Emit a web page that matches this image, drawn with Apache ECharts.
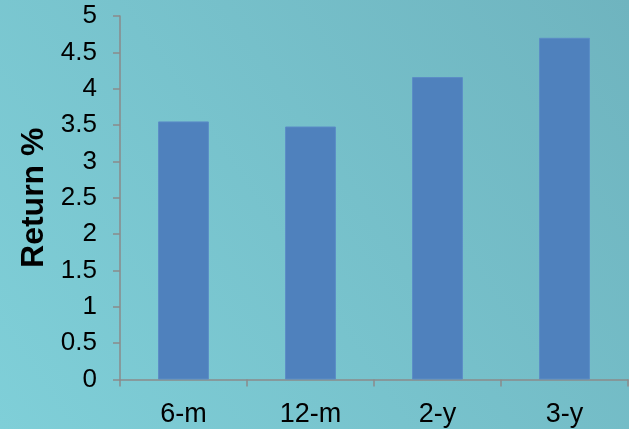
<!DOCTYPE html>
<html><head><meta charset="utf-8">
<script src="https://cdn.jsdelivr.net/npm/echarts@6/dist/echarts.min.js"></script>
<style>html,body{margin:0;padding:0;}#c{width:629px;height:429px;}</style>
</head><body><div id="c"></div>
<script>
const categories = ["6-m", "12-m", "2-y", "3-y"];
const returns = [3.55, 3.48, 4.16, 4.70];
const yTitle = "Return %";

const chart = echarts.init(document.getElementById('c'), null, {renderer: 'canvas'});
chart.setOption({
  animation: false,
  backgroundColor: new echarts.graphic.LinearGradient(0, 1, 1, 0, [
    {offset: 0, color: '#7fcfd8'},
    {offset: 1, color: '#6fb4bf'}
  ]),
  grid: {left: 120, right: 1, top: 16, bottom: 49.5, containLabel: false, outerBoundsMode: 'none'},
  xAxis: {
    type: 'category',
    data: categories,
    axisLine: {lineStyle: {color: '#8a8a8a', width: 1.5}},
    axisTick: {show: true, length: 7, lineStyle: {color: '#8a8a8a', width: 1.5}},
    axisLabel: {color: '#000', fontSize: 27, fontFamily: 'Liberation Sans, Arial, sans-serif', margin: 22}
  },
  yAxis: {
    type: 'value',
    min: 0, max: 5, interval: 0.5,
    name: yTitle,
    nameLocation: 'middle',
    nameGap: 69,
    nameRotate: 90,
    nameTextStyle: {color: '#000', fontSize: 32, fontWeight: 'bold', fontFamily: 'Liberation Sans, Arial, sans-serif'},
    axisLine: {show: true, lineStyle: {color: '#8a8a8a', width: 1.5}},
    axisTick: {show: true, length: 7, lineStyle: {color: '#8a8a8a', width: 1.5}},
    splitLine: {show: false},
    axisLabel: {color: '#000', fontSize: 26, fontFamily: 'Liberation Sans, Arial, sans-serif', margin: 23}
  },
  series: [{
    type: 'bar',
    data: returns,
    barWidth: '40%',
    itemStyle: {color: '#4f81bd', borderColor: '#5b8cc6', borderWidth: 1}
  }]
});
</script>
</body></html>
